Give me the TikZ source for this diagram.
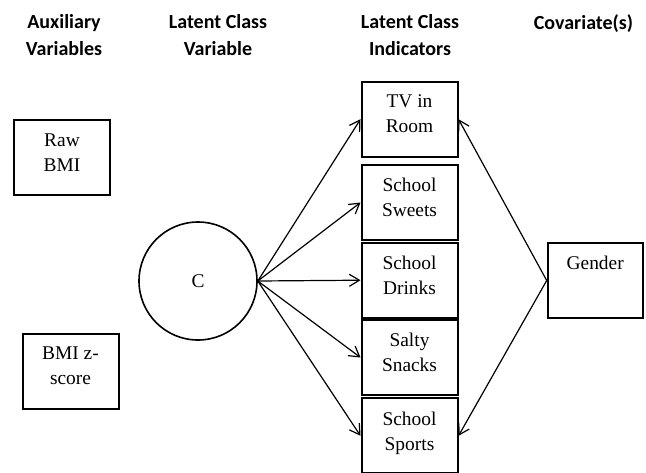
\documentclass[tikz,border=0pt]{standalone}
\usepackage{fontspec}
\setmainfont{Liberation Serif}
\newfontfamily\headfont{Carlito}
\usetikzlibrary{arrows.meta}
\usetikzlibrary{positioning}

\begin{document}
\begin{tikzpicture}[x=0.5pt, y=-0.5pt,
        box/.style={draw, line width=1pt, minimum width=48pt, minimum height=37.5pt, inner sep=0pt},
        boxtext/.style={align=center, inner sep=0pt, font=\fontsize{9.7}{12.5}\selectfont},
        header/.style={anchor=north, align=center, inner sep=0pt, font=\headfont\bfseries\fontsize{10}{13.3}\selectfont},
        arr/.style={line width=0.6pt, -{Straight Barb[length=5pt, width=6pt]}}]
        \useasboundingbox (0,0) rectangle (646,472);
        % column headings
        \node[header] (auxhead) at (64,14) {Auxiliary\\Variables};
        \node[header] (lcvhead) at (218,14) {Latent Class\\Variable};
        \node[header] (lcihead) at (410,14) {Latent Class\\Indicators};
        \node[header] (covhead) at (583.5,14) {Covariate(s)};
        % auxiliary variables
        \node[box] (rawbmi) at (62,157.9) {};
        \node[boxtext, below=7pt of rawbmi.north] (rawbmitext) {Raw\\BMI};
        \node[box] (zscore) at (70.5,371) {};
        \node[boxtext, below=7pt of zscore.north] (zscoretext) {BMI z-\\score};
        % latent class
        \node[draw, circle, line width=0.8pt, minimum size=59pt, inner sep=0pt,
              font=\fontsize{9.7}{12.5}\selectfont] (c) at (198,281) {C};
        % indicators
        \node[box] (tv) at (409.5,119.2) {};
        \node[boxtext, below=7pt of tv.north] (tvtext) {TV in\\Room};
        \node[box] (sweets) at (409.5,202.5) {};
        \node[boxtext, below=7pt of sweets.north] (sweetstext) {School\\Sweets};
        \node[box] (drinks) at (409.5,280.2) {};
        \node[boxtext, below=7pt of drinks.north] (drinkstext) {School\\Drinks};
        \node[box] (salty) at (409.5,357.5) {};
        \node[boxtext, below=7pt of salty.north] (saltytext) {Salty\\Snacks};
        \node[box] (sports) at (409.5,435.8) {};
        \node[boxtext, below=7pt of sports.north] (sportstext) {School\\Sports};
        % covariate
        \node[box, minimum width=47.5pt, minimum height=37.8pt] (gender) at (595.2,280.5) {};
        \node[boxtext, below=7pt of gender.north] (gendertext) {Gender};
        % paths
        \foreach \ind in {tv,sweets,drinks,salty,sports}
            \draw[arr] (c.east) -- (\ind.west);
        \draw[arr] (gender.west) -- (tv.east);
        \draw[arr] (gender.west) -- (sports.east);
    \end{tikzpicture}
\end{document}
